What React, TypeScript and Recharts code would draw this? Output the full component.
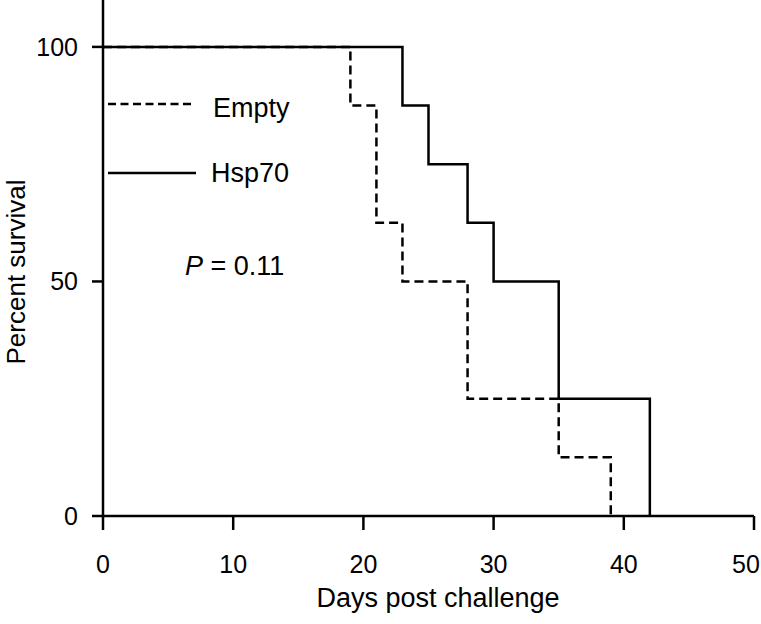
import { LineChart, Line, XAxis, YAxis, Legend } from 'recharts';

// Kaplan-Meier steps
const emptyDays = [0, 19, 21, 23, 28, 35, 39];
const emptySurvival = [100, 87.5, 62.5, 50, 25, 12.5, 0];
const hspDays = [0, 23, 25, 28, 30, 35, 42];
const hspSurvival = [100, 87.5, 75, 62.5, 50, 25, 0];

const xTicks = [0, 10, 20, 30, 40, 50];
const yTicks = [0, 50, 100];

const pValue = '0.11';

const FONT = '"Liberation Sans", Arial, Helvetica, sans-serif';

const emptyData = emptyDays.map((d, i) => ({ day: d, empty: emptySurvival[i] }));
const hspData = hspDays.map((d, i) => ({ day: d, hsp: hspSurvival[i] }));

function LegendBox() {
  return (
    <svg width={200} height={200} style={{ overflow: 'visible', display: 'block' }}>
      <line x1={0} y1={10} x2={87} y2={10} stroke="#000" strokeWidth={2.5} strokeDasharray="8 4.5" />
      <text x={105} y={23} fontSize={27} fontFamily={FONT} fill="#000">Empty</text>
      <line x1={0} y1={79} x2={88} y2={79} stroke="#000" strokeWidth={2.5} />
      <text x={103} y={88} fontSize={27} fontFamily={FONT} fill="#000">Hsp70</text>
      <text x={77} y={181} fontSize={27} fontFamily={FONT} fill="#000">
        <tspan fontStyle="italic">P</tspan>
        <tspan> = {pValue}</tspan>
      </text>
    </svg>
  );
}

function XTick(props: any) {
  const { x, y, payload } = props;
  const cx = Math.min(x, 746);
  return (
    <text x={cx} y={y + 18} textAnchor="middle" fontSize={25} fontFamily={FONT} fill="#000">
      {payload.value}
    </text>
  );
}

export default function App() {
  return (
    <div style={{ position: 'absolute', left: 0, top: 0, background: '#fff' }}>
      <LineChart width={761} height={624} margin={{ top: 0, right: 7, left: 0, bottom: 0 }}>
        <XAxis
          dataKey="day"
          type="number"
          domain={[0, 50]}
          ticks={xTicks}
          allowDuplicatedCategory={false}
          stroke="#000"
          strokeWidth={2.5}
          tickSize={14}
          tickMargin={25}
          height={108}
          tick={<XTick />}
          label={{
            content: () => (
              <text x={438} y={607} textAnchor="middle" fontSize={27} fontFamily={FONT} fill="#000">
                Days post challenge
              </text>
            ),
          }}
        />
        <YAxis
          type="number"
          domain={[0, 110]}
          ticks={yTicks}
          stroke="#000"
          strokeWidth={2.5}
          tickSize={11}
          tickMargin={14}
          width={103}
          tick={{ fontSize: 25, fontFamily: FONT, fill: '#000' }}
          label={{
            content: () => (
              <text
                x={25}
                y={272}
                transform="rotate(-90 25 272)"
                textAnchor="middle"
                fontSize={26}
                fontFamily={FONT}
                fill="#000"
              >
                Percent survival
              </text>
            ),
          }}
        />
        <Legend
          layout="vertical"
          align="center"
          verticalAlign="middle"
          wrapperStyle={{ position: 'absolute', left: 108, top: 94, width: 200, height: 200 }}
          content={() => <LegendBox />}
        />
        <Line
          data={emptyData}
          dataKey="empty"
          type="stepAfter"
          stroke="#000"
          strokeWidth={2.5}
          strokeDasharray="9 5"
          dot={false}
          isAnimationActive={false}
        />
        <Line
          data={hspData}
          dataKey="hsp"
          type="stepAfter"
          stroke="#000"
          strokeWidth={2.5}
          dot={false}
          isAnimationActive={false}
        />
      </LineChart>
    </div>
  );
}
